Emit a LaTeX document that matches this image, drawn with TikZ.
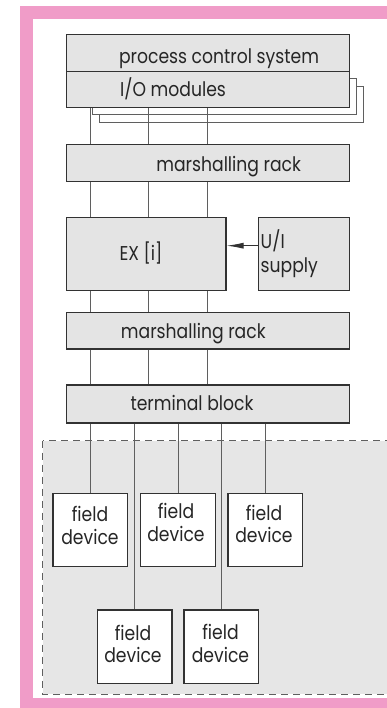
\documentclass[tikz,border=0pt]{standalone}
\usepackage{fontspec}
\setmainfont{Poppins}[FakeStretch=0.86]
\usetikzlibrary{arrows.meta}
\definecolor{pinkframe}{RGB}{240,156,200}
\definecolor{boxfill}{RGB}{228,228,228}
\definecolor{zonefill}{RGB}{230,230,230}
\definecolor{edge}{RGB}{50,50,50}
\definecolor{wire}{RGB}{95,95,95}
\tikzset{
  box/.style={draw=edge, line width=1.2pt, fill=boxfill, inner sep=0pt, anchor=north west},
  shadowbox/.style={draw=wire, line width=0.9pt, fill=white, inner sep=0pt, anchor=north west},
  devbox/.style={draw=edge, line width=1.2pt, fill=white, inner sep=0pt, anchor=north west, minimum width=74.7pt, minimum height=73.4pt},
  txt/.style={anchor=base, inner sep=0pt, text=black!85, font=\fontsize{20}{22}\selectfont},
  txtw/.style={anchor=base west, inner sep=0pt, text=black!85, font=\fontsize{20}{22}\selectfont},
  wireline/.style={draw=wire, line width=0.9pt},
}
\begin{document}
\begin{tikzpicture}[x=1pt, y=-1pt]
\useasboundingbox (0,0) rectangle (386,708);
% frame
\fill[pinkframe] (20,6) rectangle (420,740);
\fill[white] (33.3,19) rectangle (410,698);
% field zone
\draw[fill=zonefill, draw=wire, line width=0.9pt, dash pattern=on 7pt off 5pt] (42.7,440.7) rectangle (420,694);
% shadows of I/O modules
\node[shadowbox, minimum width=264pt, minimum height=36pt] (sh2) at (99.3,86) {};
\node[shadowbox, minimum width=264pt, minimum height=36pt] (sh1) at (92,78) {};
% boxes
\node[box, minimum width=283pt, minimum height=37pt] (pcs) at (66,34) {};
\node[box, minimum width=283pt, minimum height=36pt] (iom) at (66,71) {};
\node[box, minimum width=283pt, minimum height=37pt] (mr1) at (66,144) {};
\node[box, minimum width=159.3pt, minimum height=73pt] (ex) at (66,217) {};
\node[box, minimum width=91.3pt, minimum height=73pt] (ui) at (257.7,217) {};
\node[box, minimum width=283pt, minimum height=36.6pt] (mr2) at (66,311.7) {};
\node[box, minimum width=283pt, minimum height=38pt] (tb) at (66,384.3) {};
% texts
\node[txt] (pcst) at (219,63.3) {process control system};
\node[txtw] (iomt) at (120,96.7) {I/O modules};
\node[txt] (mr1t) at (228.7,171.7) {marshalling rack};
\node[txt] (ext) at (141,260) {EX [i]};
\node[txtw] (uit1) at (260.5,249) {U/I};
\node[txtw] (uit2) at (260.5,272.7) {supply};
\node[txt] (mr2t) at (193.3,338.3) {marshalling rack};
\node[txt] (tbt) at (192,410) {terminal block};
% field devices
\node[devbox] (fd1) at (52.3,492.7) {};
\node[devbox] (fd2) at (140,492.7) {};
\node[devbox] (fd3) at (227.3,492.7) {};
\node[devbox] (fd4) at (96.7,609.3) {};
\node[devbox] (fd5) at (183.3,609.3) {};
\node[txt] (fd1a) at (90,521) {field};
\node[txt] (fd1b) at (90,544) {device};
\node[txt] (fd2a) at (176,518.3) {field};
\node[txt] (fd2b) at (176,541) {device};
\node[txt] (fd3a) at (264,520) {field};
\node[txt] (fd3b) at (264,542.7) {device};
\node[txt] (fd4a) at (133,640) {field};
\node[txt] (fd4b) at (133,662.7) {device};
\node[txt] (fd5a) at (220.5,639.3) {field};
\node[txt] (fd5b) at (220.5,662.7) {device};
% wire positions
\coordinate (c1) at (90,0);
\coordinate (c2) at (148.3,0);
\coordinate (c3) at (207.3,0);
\foreach \c in {c1,c2,c3}{
  \draw[wireline] (iom.south -| \c) -- (mr1.north -| \c);
  \draw[wireline] (mr1.south -| \c) -- (ex.north -| \c);
  \draw[wireline] (ex.south -| \c) -- (mr2.north -| \c);
  \draw[wireline] (mr2.south -| \c) -- (tb.north -| \c);
}
\foreach \d in {fd1,fd2,fd3,fd4,fd5}{
  \draw[wireline] (\d.north |- tb.south) -- (\d.north);
}
% supply arrow
\coordinate (ar) at (0,245.7);
\draw[draw=edge, line width=1pt, -{Latex[length=17pt,width=6pt]}] (ui.west |- ar) -- (ex.east |- ar);
\end{tikzpicture}
\end{document}
